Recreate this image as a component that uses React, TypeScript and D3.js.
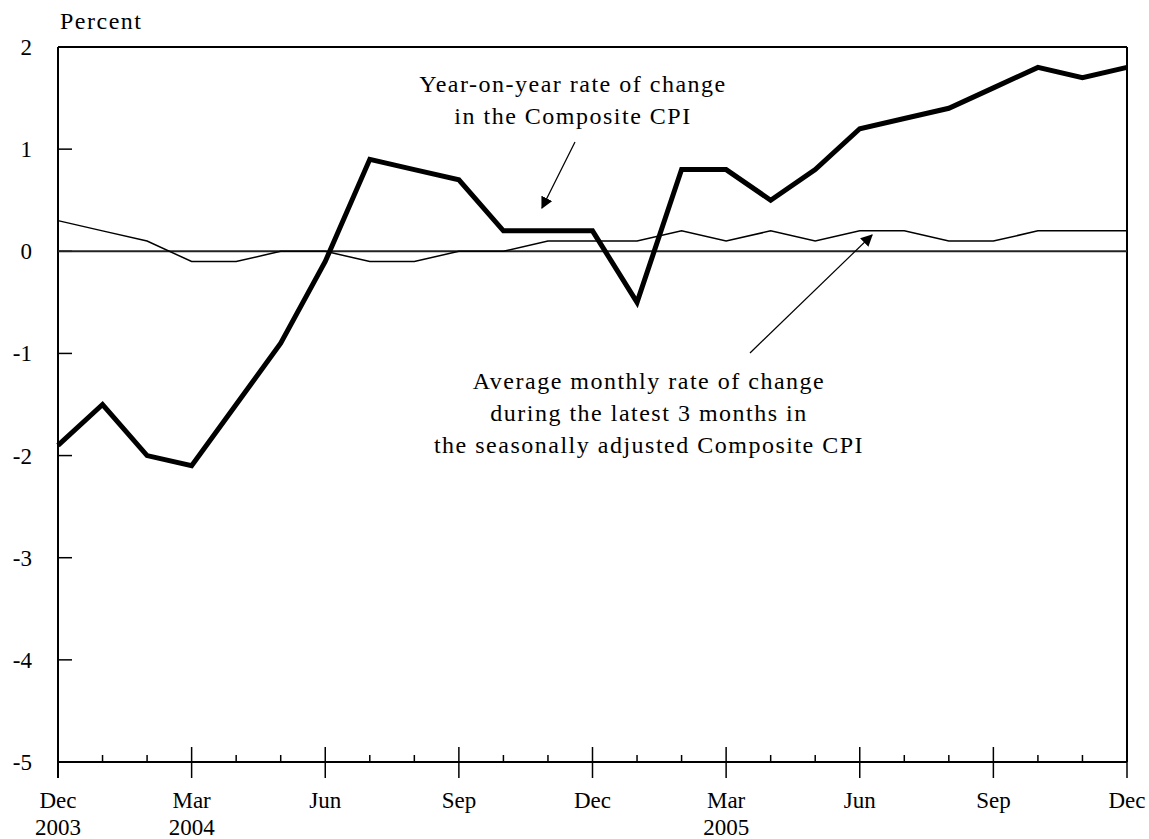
import { useEffect, useRef } from 'react';
import * as d3 from 'd3';

// Monthly observations, Dec 2003 .. Dec 2005
const months = [
  '2003-12', '2004-01', '2004-02', '2004-03', '2004-04', '2004-05', '2004-06',
  '2004-07', '2004-08', '2004-09', '2004-10', '2004-11', '2004-12',
  '2005-01', '2005-02', '2005-03', '2005-04', '2005-05', '2005-06',
  '2005-07', '2005-08', '2005-09', '2005-10', '2005-11', '2005-12',
];

// Year-on-year rate of change in the Composite CPI
const yoyChange = [
  -1.9, -1.5, -2.0, -2.1, -1.5, -0.9, -0.1, 0.9, 0.8, 0.7, 0.2, 0.2, 0.2,
  -0.5, 0.8, 0.8, 0.5, 0.8, 1.2, 1.3, 1.4, 1.6, 1.8, 1.7, 1.8,
];

// Average monthly rate of change during the latest 3 months (seasonally adjusted)
const avgMonthlyChange = [
  0.3, 0.2, 0.1, -0.1, -0.1, 0.0, 0.0, -0.1, -0.1, 0.0, 0.0, 0.1, 0.1,
  0.1, 0.2, 0.1, 0.2, 0.1, 0.2, 0.2, 0.1, 0.1, 0.2, 0.2, 0.2,
];

const yTicks = [2, 1, 0, -1, -2, -3, -4, -5];
const xTickMonths = ['Dec', 'Mar', 'Jun', 'Sep', 'Dec', 'Mar', 'Jun', 'Sep', 'Dec'];
const xTickYears = ['2003', '2004', '', '', '', '2005', '', '', ''];

const yoyLabel = ['Year-on-year rate of change', 'in the Composite CPI'];
const avgLabel = [
  'Average monthly rate of change',
  'during the latest 3 months in',
  'the seasonally adjusted Composite CPI',
];

const W = 1149;
const H = 839;
const FONT = '"Liberation Serif", "DejaVu Serif", serif';

const App = () => {
  const svgRef = useRef<SVGSVGElement>(null);

  useEffect(() => {
    if (!svgRef.current) return;
    const svg = d3.select(svgRef.current);
    svg.selectAll('*').remove();

    const left = 58;
    const right = 1127;
    const top = 47;
    const bottom = 762;

    const x = d3.scaleLinear().domain([0, months.length - 1]).range([left, right]);
    const y = d3.scaleLinear().domain([-5, 2]).range([bottom, top]);

    svg.append('defs').append('marker')
      .attr('id', 'arrow')
      .attr('viewBox', '0 0 10 10')
      .attr('refX', 9)
      .attr('refY', 5)
      .attr('markerWidth', 12)
      .attr('markerHeight', 12)
      .attr('markerUnits', 'userSpaceOnUse')
      .attr('orient', 'auto')
      .append('path')
      .attr('d', 'M0,0 L10,5 L0,10 z')
      .attr('fill', '#000');

    // frame
    svg.append('line').attr('x1', left).attr('x2', right).attr('y1', y(2)).attr('y2', y(2))
      .attr('stroke', '#000').attr('stroke-width', 2);
    svg.append('line').attr('x1', right).attr('x2', right).attr('y1', y(2)).attr('y2', bottom)
      .attr('stroke', '#000').attr('stroke-width', 2);
    svg.append('line').attr('x1', left).attr('x2', left).attr('y1', y(2)).attr('y2', bottom + 16)
      .attr('stroke', '#000').attr('stroke-width', 2);
    svg.append('line').attr('x1', left).attr('x2', right).attr('y1', bottom).attr('y2', bottom)
      .attr('stroke', '#000').attr('stroke-width', 2);

    // y ticks + labels
    const yAxis = svg.append('g');
    yTicks.forEach(t => {
      if (t !== 2 && t !== -5) {
        yAxis.append('line').attr('x1', left).attr('x2', left + 14)
          .attr('y1', y(t)).attr('y2', y(t)).attr('stroke', '#000').attr('stroke-width', 1.5);
      }
      yAxis.append('text')
        .attr('x', 32).attr('y', y(t)).attr('dy', '0.35em')
        .attr('text-anchor', 'end')
        .style('font-family', FONT).style('font-size', '23px')
        .text(String(t));
    });

    // zero line
    svg.append('line').attr('x1', left).attr('x2', right).attr('y1', y(0)).attr('y2', y(0))
      .attr('stroke', '#222').attr('stroke-width', 2);

    // x ticks
    const xAxis = svg.append('g');
    months.forEach((_, i) => {
      const major = i % 3 === 0;
      xAxis.append('line')
        .attr('x1', x(i)).attr('x2', x(i))
        .attr('y1', major ? bottom - 15 : bottom - 7)
        .attr('y2', major ? bottom + 16 : bottom)
        .attr('stroke', '#000').attr('stroke-width', 1.5);
    });
    xTickMonths.forEach((m, k) => {
      const xi = x(k * 3);
      xAxis.append('text').attr('x', xi).attr('y', 808).attr('text-anchor', 'middle')
        .style('font-family', FONT).style('font-size', '23px').text(m);
      if (xTickYears[k]) {
        xAxis.append('text').attr('x', xi).attr('y', 835).attr('text-anchor', 'middle')
          .style('font-family', FONT).style('font-size', '23px').text(xTickYears[k]);
      }
    });

    // Percent label
    svg.append('text').attr('x', 60).attr('y', 29)
      .style('font-family', FONT).style('font-size', '24px').style('letter-spacing', '1.5px')
      .text('Percent');

    // series
    const line = d3.line<number>().x((_, i) => x(i)).y(d => y(d));

    svg.append('path').datum(avgMonthlyChange)
      .attr('fill', 'none').attr('stroke', '#000').attr('stroke-width', 1.5)
      .attr('d', line);

    svg.append('path').datum(yoyChange)
      .attr('fill', 'none').attr('stroke', '#000').attr('stroke-width', 5)
      .attr('stroke-linejoin', 'miter')
      .attr('d', line);

    // annotations
    yoyLabel.forEach((t, i) => {
      svg.append('text').attr('x', 573).attr('y', 92 + i * 32).attr('text-anchor', 'middle')
        .style('font-family', FONT).style('font-size', '24px').style('letter-spacing', '1.5px')
        .text(t);
    });
    svg.append('line').attr('x1', 575).attr('y1', 142).attr('x2', 542).attr('y2', 208)
      .attr('stroke', '#000').attr('stroke-width', 1.2).attr('marker-end', 'url(#arrow)');

    avgLabel.forEach((t, i) => {
      svg.append('text').attr('x', 649).attr('y', 389 + i * 32).attr('text-anchor', 'middle')
        .style('font-family', FONT).style('font-size', '24px').style('letter-spacing', '1.5px')
        .text(t);
    });
    svg.append('line').attr('x1', 750).attr('y1', 353).attr('x2', 872).attr('y2', 235)
      .attr('stroke', '#000').attr('stroke-width', 1.2).attr('marker-end', 'url(#arrow)');
  }, []);

  return (
    <div style={{ position: 'absolute', left: 0, top: 0, background: '#fff' }}>
      <svg ref={svgRef} width={W} height={H}></svg>
    </div>
  );
};

export default App;
